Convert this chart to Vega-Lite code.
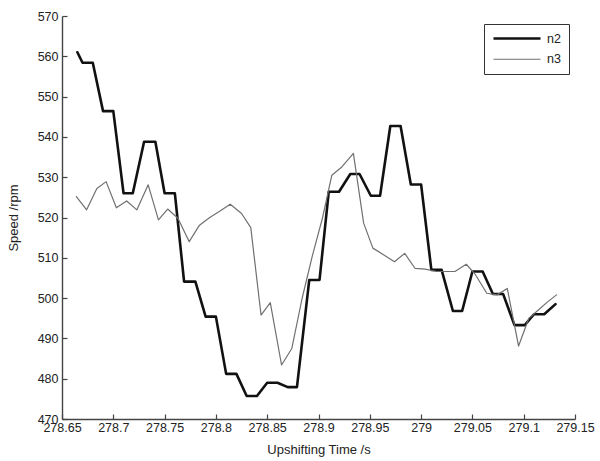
{
  "$schema": "https://vega.github.io/schema/vega-lite/v6.json",
  "width": 513,
  "height": 403,
  "autosize": "none",
  "padding": {"left": 62, "top": 16, "right": 25, "bottom": 42},
  "config": {
    "view": {"stroke": null},
    "font": "Liberation Sans",
    "axis": {
      "grid": false,
      "domainColor": "#444",
      "domainWidth": 1.4,
      "tickColor": "#444",
      "tickWidth": 1.2,
      "tickSize": -5,
      "labelFontSize": 12.5,
      "labelColor": "#222",
      "labelFont": "Liberation Sans",
      "titleFont": "Liberation Sans",
      "titleFontSize": 13,
      "titleFontWeight": "normal",
      "titleColor": "#222",
      "labelFlush": false,
      "labelOverlap": false
    }
  },
  "data": {
    "values": [
      {"t": 278.665, "v": 561.0, "series": "n2"},
      {"t": 278.670, "v": 558.4, "series": "n2"},
      {"t": 278.680, "v": 558.4, "series": "n2"},
      {"t": 278.690, "v": 546.4, "series": "n2"},
      {"t": 278.700, "v": 546.4, "series": "n2"},
      {"t": 278.710, "v": 526.0, "series": "n2"},
      {"t": 278.719, "v": 526.0, "series": "n2"},
      {"t": 278.730, "v": 538.8, "series": "n2"},
      {"t": 278.741, "v": 538.8, "series": "n2"},
      {"t": 278.750, "v": 526.0, "series": "n2"},
      {"t": 278.760, "v": 526.0, "series": "n2"},
      {"t": 278.769, "v": 504.1, "series": "n2"},
      {"t": 278.780, "v": 504.1, "series": "n2"},
      {"t": 278.790, "v": 495.4, "series": "n2"},
      {"t": 278.800, "v": 495.4, "series": "n2"},
      {"t": 278.810, "v": 481.2, "series": "n2"},
      {"t": 278.820, "v": 481.2, "series": "n2"},
      {"t": 278.830, "v": 475.7, "series": "n2"},
      {"t": 278.840, "v": 475.7, "series": "n2"},
      {"t": 278.850, "v": 479.0, "series": "n2"},
      {"t": 278.860, "v": 479.0, "series": "n2"},
      {"t": 278.870, "v": 477.9, "series": "n2"},
      {"t": 278.879, "v": 477.9, "series": "n2"},
      {"t": 278.891, "v": 504.5, "series": "n2"},
      {"t": 278.901, "v": 504.5, "series": "n2"},
      {"t": 278.910, "v": 526.4, "series": "n2"},
      {"t": 278.920, "v": 526.4, "series": "n2"},
      {"t": 278.931, "v": 530.8, "series": "n2"},
      {"t": 278.940, "v": 530.8, "series": "n2"},
      {"t": 278.951, "v": 525.4, "series": "n2"},
      {"t": 278.960, "v": 525.4, "series": "n2"},
      {"t": 278.970, "v": 542.7, "series": "n2"},
      {"t": 278.980, "v": 542.7, "series": "n2"},
      {"t": 278.990, "v": 528.2, "series": "n2"},
      {"t": 279.000, "v": 528.2, "series": "n2"},
      {"t": 279.010, "v": 507.0, "series": "n2"},
      {"t": 279.020, "v": 507.0, "series": "n2"},
      {"t": 279.031, "v": 496.8, "series": "n2"},
      {"t": 279.040, "v": 496.8, "series": "n2"},
      {"t": 279.050, "v": 506.6, "series": "n2"},
      {"t": 279.060, "v": 506.6, "series": "n2"},
      {"t": 279.070, "v": 501.0, "series": "n2"},
      {"t": 279.080, "v": 501.0, "series": "n2"},
      {"t": 279.091, "v": 493.3, "series": "n2"},
      {"t": 279.101, "v": 493.3, "series": "n2"},
      {"t": 279.110, "v": 496.0, "series": "n2"},
      {"t": 279.120, "v": 496.0, "series": "n2"},
      {"t": 279.131, "v": 498.5, "series": "n2"},
      {"t": 278.664, "v": 525.2, "series": "n3"},
      {"t": 278.674, "v": 521.9, "series": "n3"},
      {"t": 278.684, "v": 527.2, "series": "n3"},
      {"t": 278.693, "v": 528.9, "series": "n3"},
      {"t": 278.703, "v": 522.4, "series": "n3"},
      {"t": 278.713, "v": 524.1, "series": "n3"},
      {"t": 278.723, "v": 521.9, "series": "n3"},
      {"t": 278.734, "v": 528.1, "series": "n3"},
      {"t": 278.744, "v": 519.4, "series": "n3"},
      {"t": 278.753, "v": 522.1, "series": "n3"},
      {"t": 278.763, "v": 519.8, "series": "n3"},
      {"t": 278.774, "v": 514.0, "series": "n3"},
      {"t": 278.784, "v": 518.1, "series": "n3"},
      {"t": 278.794, "v": 520.0, "series": "n3"},
      {"t": 278.804, "v": 521.6, "series": "n3"},
      {"t": 278.814, "v": 523.3, "series": "n3"},
      {"t": 278.825, "v": 521.0, "series": "n3"},
      {"t": 278.834, "v": 517.5, "series": "n3"},
      {"t": 278.844, "v": 495.8, "series": "n3"},
      {"t": 278.853, "v": 498.9, "series": "n3"},
      {"t": 278.864, "v": 483.4, "series": "n3"},
      {"t": 278.874, "v": 487.5, "series": "n3"},
      {"t": 278.884, "v": 499.9, "series": "n3"},
      {"t": 278.894, "v": 510.5, "series": "n3"},
      {"t": 278.904, "v": 520.0, "series": "n3"},
      {"t": 278.913, "v": 530.5, "series": "n3"},
      {"t": 278.923, "v": 532.6, "series": "n3"},
      {"t": 278.934, "v": 535.9, "series": "n3"},
      {"t": 278.944, "v": 518.6, "series": "n3"},
      {"t": 278.953, "v": 512.4, "series": "n3"},
      {"t": 278.963, "v": 510.8, "series": "n3"},
      {"t": 278.974, "v": 509.0, "series": "n3"},
      {"t": 278.984, "v": 511.1, "series": "n3"},
      {"t": 278.994, "v": 507.4, "series": "n3"},
      {"t": 279.004, "v": 507.2, "series": "n3"},
      {"t": 279.015, "v": 506.6, "series": "n3"},
      {"t": 279.024, "v": 506.6, "series": "n3"},
      {"t": 279.033, "v": 506.6, "series": "n3"},
      {"t": 279.044, "v": 508.4, "series": "n3"},
      {"t": 279.053, "v": 505.8, "series": "n3"},
      {"t": 279.064, "v": 501.2, "series": "n3"},
      {"t": 279.074, "v": 500.8, "series": "n3"},
      {"t": 279.084, "v": 502.4, "series": "n3"},
      {"t": 279.095, "v": 488.1, "series": "n3"},
      {"t": 279.105, "v": 495.0, "series": "n3"},
      {"t": 279.114, "v": 497.0, "series": "n3"},
      {"t": 279.123, "v": 499.0, "series": "n3"},
      {"t": 279.132, "v": 500.8, "series": "n3"}
    ]
  },
  "mark": {"type": "line", "strokeJoin": "round", "strokeCap": "round"},
  "encoding": {
    "x": {
      "field": "t",
      "type": "quantitative",
      "scale": {"domain": [278.65, 279.15], "nice": false, "zero": false},
      "axis": {
        "title": "Upshifting Time /s",
        "values": [278.65, 278.7, 278.75, 278.8, 278.85, 278.9, 278.95, 279, 279.05, 279.1, 279.15],
        "format": ".5~r",
        "labelPadding": 7,
        "titlePadding": 10
      }
    },
    "y": {
      "field": "v",
      "type": "quantitative",
      "scale": {"domain": [470, 570], "nice": false, "zero": false},
      "axis": {
        "title": "Speed /rpm",
        "values": [470, 480, 490, 500, 510, 520, 530, 540, 550, 560, 570],
        "labelPadding": 9,
        "titlePadding": 17
      }
    },
    "color": {
      "field": "series",
      "type": "nominal",
      "scale": {"domain": ["n2", "n3"], "range": ["#111111", "#707070"]},
      "legend": {
        "orient": "none", "legendX": 422, "legendY": 8, "title": null,
        "strokeColor": "#333", "fillColor": "#ffffff", "padding": 8,
        "symbolType": "M-1,0H8.4", "symbolSize": 100,
        "labelFontSize": 12.5, "labelColor": "#222", "rowPadding": 8, "labelOffset": 42
      }
    },
    "strokeWidth": {
      "field": "series",
      "type": "nominal",
      "scale": {"domain": ["n2", "n3"], "range": [2.6, 1.2]},
      "legend": {
        "orient": "none", "legendX": 422, "legendY": 8, "title": null,
        "strokeColor": "#333", "fillColor": "#ffffff", "padding": 8,
        "symbolType": "M-1,0H8.4", "symbolSize": 100,
        "labelFontSize": 12.5, "labelColor": "#222", "rowPadding": 8, "labelOffset": 42
      }
    }
  }
}
